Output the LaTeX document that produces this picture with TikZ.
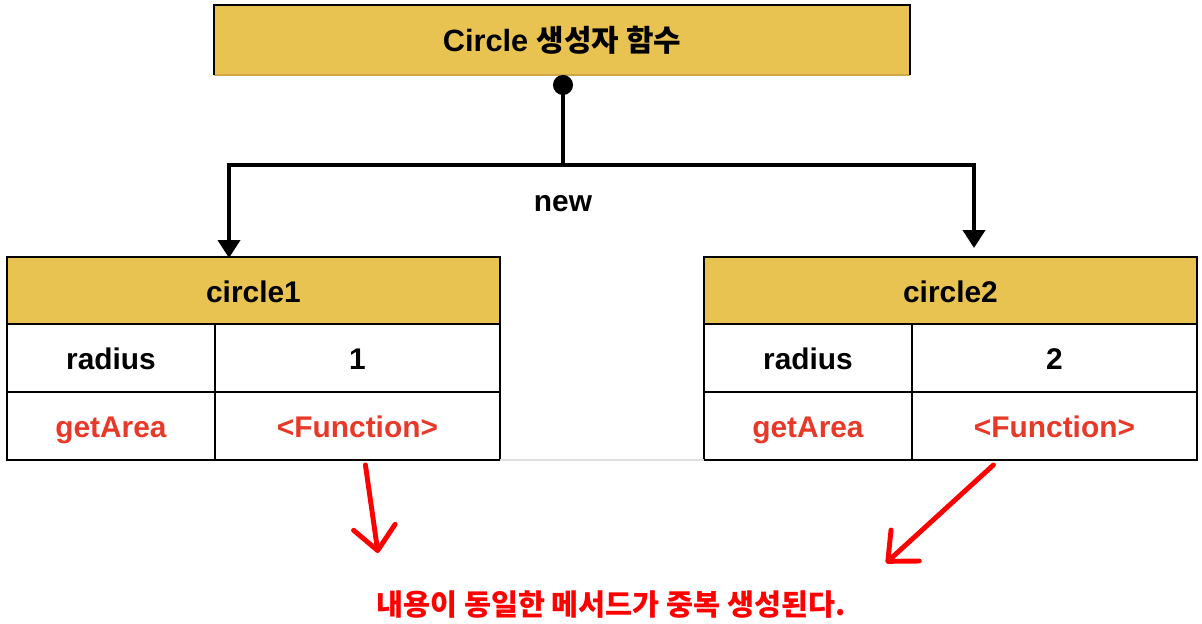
\documentclass[tikz,border=0pt]{standalone}
\usepackage{fontspec}
\setmainfont{Liberation Sans}
\newfontfamily\kr{Noto Sans CJK KR}
\usepackage{xcolor}
\definecolor{gold}{RGB}{232,195,82}
\definecolor{golddark}{RGB}{208,168,72}
\definecolor{tred}{RGB}{232,56,40}
\usetikzlibrary{arrows.meta,positioning}
\tikzset{>=Triangle}
\tikzset{
  cell/.style={draw,line width=1.1pt,inner sep=0pt,outer sep=0pt,minimum height=1.36cm,
    text height=14.5pt,text depth=1pt,font=\fontsize{17}{20}\selectfont\bfseries},
  head cell/.style={cell,fill=gold,minimum width=9.86cm,minimum height=1.34cm},
  key cell/.style={cell,minimum width=4.16cm},
  value cell/.style={cell,minimum width=5.7cm},
  new arrow/.style={line width=2.3pt},
  red arrow/.style={red,line width=2.8pt,line cap=round,
    -{Straight Barb[length=0.47cm,width=0.84cm,line cap=round,line join=round]}}
}

\begin{document}
\begin{tikzpicture}[x=0.02cm,y=-0.02cm]
    \useasboundingbox (0,0) rectangle (1202,624);
    \node[fill=gold,minimum width=13.92cm,minimum height=1.4cm,inner sep=0pt,outer sep=0pt] (title) at (562,40)
        {\fontsize{17.5}{20}\selectfont\bfseries Circle {\kr\fontsize{17}{20}\selectfont 생성자 함수}};
    \draw[golddark,line width=1pt] (title.south west) -- (title.south east);
    \draw[line width=1.1pt] (title.south west) -- (title.north west) -- (title.north east) -- (title.south east);

    \node[head cell,anchor=north west] (c1) at (7,257) {circle1};
    \node[key cell,below right=0pt and 0pt of c1.south west] (c1r) {radius};
    \node[value cell,right=0pt of c1r] (c1v) {1};
    \node[key cell,below right=0pt and 0pt of c1r.south west,text=tred] (c1g) {getArea};
    \node[value cell,right=0pt of c1g,text=tred] (c1f) {<Function>};

    \node[head cell,anchor=north west] (c2) at (704,257) {circle2};
    \node[key cell,below right=0pt and 0pt of c2.south west] (c2r) {radius};
    \node[value cell,right=0pt of c2r] (c2v) {2};
    \node[key cell,below right=0pt and 0pt of c2r.south west,text=tred] (c2g) {getArea};
    \node[value cell,right=0pt of c2g,text=tred] (c2f) {<Function>};
    \draw[black!12,line width=1pt] (c1f.south east) -- (c2g.south west);

    \coordinate (split) at (563,165);
    \coordinate (in1) at (229,258);
    \coordinate (in2) at (974,248);
    \draw[new arrow,{Circle[length=0.4cm]}-{Triangle[length=0.36cm,width=0.44cm]}] (title.south -| split) -- (split) -| (in1);
    \draw[new arrow,-{Triangle[length=0.36cm,width=0.44cm]}] (split) -| (in2);
    \node[font=\fontsize{17}{20}\selectfont\bfseries] (new) at (563,204) {new};

    \coordinate (p1) at (378,553);
    \coordinate (p2) at (886,563);
    \draw[red arrow] ([shift={(8,5)}]c1f.south) -- (p1);
    \draw[red arrow] ([shift={(-61,5)}]c2f.south) -- (p2);
    \node[text=red,font=\kr\fontsize{16.7}{20}\selectfont\bfseries] (note) at (611,605) {내용이 동일한 메서드가 중복 생성된다.};
\end{tikzpicture}
\end{document}
